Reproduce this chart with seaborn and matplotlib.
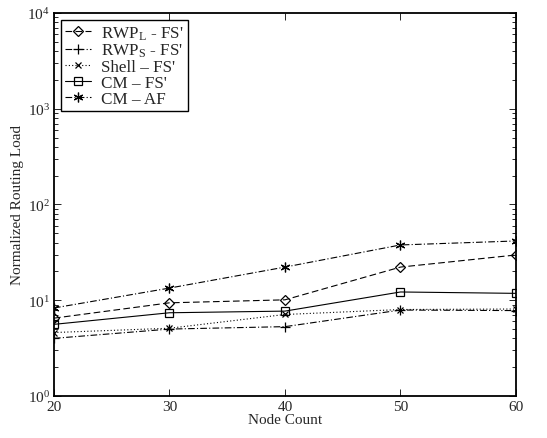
import matplotlib
matplotlib.use("Agg")
import matplotlib.pyplot as plt
import seaborn as sns
import pandas as pd
from matplotlib.ticker import LogLocator, NullFormatter, FixedLocator

# Routing load per protocol configuration vs. network size
node_count = [20, 30, 40, 50, 60]
rwp_l_fs = [6.5, 9.4, 10.1, 22.2, 29.7]
rwp_s_fs = [4.0, 5.0, 5.3, 7.9, 7.8]
shell_fs = [4.6, 5.1, 7.1, 8.0, 8.1]
cm_fs = [5.6, 7.4, 7.7, 12.2, 11.8]
cm_af = [8.3, 13.4, 22.2, 37.8, 41.6]

series = [
    (r"RWP$_{\mathrm{L}}$ - FS'", rwp_l_fs, (0, (6, 3)), "D", 5.5, "none"),
    (r"RWP$_{\mathrm{S}}$ - FS'", rwp_s_fs, (0, (6, 2, 1, 2)), "+", 7, "black"),
    ("Shell \u2013 FS'", shell_fs, (0, (1, 2)), "x", 5, "black"),
    ("CM \u2013 FS'", cm_fs, "-", "s", 6, "none"),
    ("CM \u2013 AF", cm_af, (0, (6, 2, 1, 2)), (6, 2, 0), 7, "black"),
]

sns.set_style("ticks")
plt.rcParams["font.family"] = ["Liberation Serif", "DejaVu Serif"]
plt.rcParams["mathtext.fontset"] = "custom"
plt.rcParams["mathtext.rm"] = "Liberation Serif"
plt.rcParams["mathtext.it"] = "Liberation Serif:italic"
plt.rcParams["mathtext.bf"] = "Liberation Serif:bold"

fig = plt.figure(figsize=(5.47, 4.39), dpi=100)
ax = fig.add_axes([0.0987, 0.0957, 0.8446, 0.8724])

for label, vals, ls, mk, ms, mfc in series:
    df = pd.DataFrame({"Node Count": node_count, "Load": vals})
    sns.lineplot(data=df, x="Node Count", y="Load", ax=ax, color="black",
                 linestyle=ls, linewidth=0.8, marker=mk, markersize=ms,
                 markerfacecolor=mfc, markeredgecolor="black",
                 markeredgewidth=0.9, label=label)

ax.set_yscale("log")
ax.set_xlim(20, 60)
ax.set_ylim(1, 1e4)
ax.xaxis.set_major_locator(FixedLocator(node_count))
ax.yaxis.set_major_locator(LogLocator(base=10, numticks=10))
ax.yaxis.set_minor_locator(LogLocator(base=10, subs=range(2, 10), numticks=20))
ax.yaxis.set_minor_formatter(NullFormatter())

ax.set_xlabel("Node Count", fontsize=11, labelpad=0)
ax.set_ylabel("Normalized Routing Load", fontsize=11, labelpad=2)
ax.tick_params(axis="both", which="both", direction="in", top=True, right=True,
               labelsize=11, width=0.7)
ax.tick_params(axis="both", which="major", length=5, pad=3)
ax.tick_params(axis="y", which="minor", length=3)
for sp in ax.spines.values():
    sp.set_linewidth(1.3)
    sp.set_color("black")

leg = ax.legend(loc="upper left", fontsize=12.3, frameon=True, fancybox=False,
                edgecolor="black", framealpha=1, handlelength=1.5,
                borderpad=0.25, labelspacing=0.0, handletextpad=0.6,
                borderaxespad=0.4)
leg.get_frame().set_linewidth(1.0)

fig.savefig("out.png", dpi=100)
